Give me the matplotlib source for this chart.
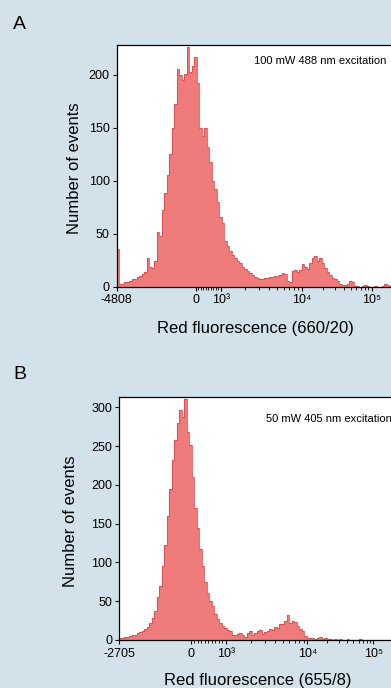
import numpy as np
import matplotlib
matplotlib.use('Agg')
import matplotlib.pyplot as plt
from matplotlib.ticker import FixedLocator, FixedFormatter, NullFormatter

plt.rcParams['font.family'] = ['Liberation Sans', 'DejaVu Sans']

# counts per display channel (channels are equal width on the biexponential axis)
counts_a = [36, 3, 3, 4, 4, 5, 7, 7, 9, 10, 12, 14, 27, 19, 18, 24, 52, 48, 72, 88,
            105, 125, 150, 172, 205, 200, 195, 201, 226, 203, 208, 217, 192, 150, 142, 150, 132, 118, 100, 92,
            80, 66, 60, 43, 38, 34, 30, 27, 24, 22, 19, 17, 15, 13, 11, 9, 8, 7, 7, 8,
            8, 9, 9, 10, 10, 11, 13, 12, 5, 4, 15, 16, 14, 16, 21, 19, 17, 22, 27, 29,
            24, 27, 22, 18, 14, 11, 8, 7, 5, 3, 2, 2, 3, 5, 4, 1, 1, 0, 1, 2,
            1, 0, 0, 1, 0, 0, 1, 3, 2, 1]
counts_b = [3, 3, 4, 4, 5, 6, 7, 9, 10, 11, 14, 17, 22, 29, 38, 55, 70, 95, 122, 160,
            195, 232, 258, 280, 296, 288, 311, 268, 252, 210, 170, 145, 118, 95, 75, 60, 50, 44, 33, 27,
            22, 18, 15, 13, 11, 7, 6, 8, 9, 6, 4, 9, 12, 7, 9, 11, 13, 8, 10, 12,
            14, 13, 17, 16, 21, 20, 24, 32, 22, 24, 23, 18, 14, 11, 5, 3, 2, 2, 1, 3,
            4, 1, 2, 1, 1, 0, 1, 0, 1, 0, 0, 1, 0, 0, 0, 0, 1, 0, 0, 0,
            0, 0, 0, 0, 0, 0, 0, 0, 0]

ticks_a = [-4808, 0, 1e3, 1e4, 1e5]
ticks_b = [-2705, 0, 1e3, 1e4, 1e5]
decade_labels = ['10³', '10⁴', '10⁵']
labels_a = ['-4808', '0'] + decade_labels
labels_b = ['-2705', '0'] + decade_labels
minor_ticks = ([100 * k for k in range(1, 10)] + [1e3 * k for k in range(2, 10)]
               + [1e4 * k for k in range(2, 10)] + [2e5])

BG = '#d3e2ea'
FILL = '#f07b7b'
EDGE = '#d8454a'
CH_W = 2.5
XMAX = 262144


def biex(neg, w_neg, w_lin, w_d3, w_d4):
    # piecewise linear / log axis similar to a logicle display
    def fwd(x):
        x = np.asarray(x, float)
        with np.errstate(all='ignore'):
            return np.where(x < 0, w_neg * x / neg,
                   np.where(x < 1e3, w_lin * x / 1e3,
                   np.where(x < 1e4, w_lin + w_d3 * np.log10(np.maximum(x, 1e3) / 1e3),
                            w_lin + w_d3 + w_d4 * np.log10(np.maximum(x, 1e4) / 1e4))))

    def inv(d):
        d = np.asarray(d, float)
        with np.errstate(all='ignore'):
            return np.where(d < 0, d * neg / w_neg,
                   np.where(d < w_lin, d / w_lin * 1e3,
                   np.where(d < w_lin + w_d3, 1e3 * 10 ** ((d - w_lin) / w_d3),
                            1e4 * 10 ** ((d - w_lin - w_d3) / w_d4))))
    return fwd, inv


def panel(ax, counts, ticks, labels, widths, ytop, yticks, note, note_xy):
    fwd, inv = biex(abs(ticks[0]), *widths)
    ax.set_xscale('function', functions=(fwd, inv))
    d0 = fwd(ticks[0])
    edges = inv(d0 + CH_W * np.arange(len(counts) + 1))
    ax.stairs(counts, edges, fill=True, color=FILL, lw=0)
    ax.stairs(counts, edges, color=EDGE, lw=0.8, alpha=0.75)
    ax.set_xlim(ticks[0], XMAX)
    ax.set_ylim(0, ytop)
    ax.xaxis.set_major_locator(FixedLocator(ticks))
    ax.xaxis.set_major_formatter(FixedFormatter(labels))
    ax.xaxis.set_minor_locator(FixedLocator(minor_ticks))
    ax.xaxis.set_minor_formatter(NullFormatter())
    ax.set_yticks(yticks)
    ax.tick_params(which='major', length=3, width=0.8, labelsize=9, pad=2, colors='black')
    ax.tick_params(which='minor', length=2, width=0.6)
    ax.tick_params(axis='x', which='major', pad=2.5)
    for s in ax.spines.values():
        s.set_linewidth(0.9)
    ax.text(note_xy[0], note_xy[1], note, transform=ax.transAxes, fontsize=8,
            ha='left', va='center')


W, H = 391, 688
fig = plt.figure(figsize=(W / 100, H / 100), dpi=100, facecolor=BG)

ax_a = fig.add_axes([116.7 / W, 1 - 286.7 / H, 284.3 / W, 241.7 / H])
panel(ax_a, counts_a, ticks_a, labels_a, (79.3, 24.7, 81, 70), 228,
      [0, 50, 100, 150, 200], '100 mW 488 nm excitation', (0.483, 0.932))

ax_b = fig.add_axes([119.3 / W, 1 - 640 / H, 281.7 / W, 242.7 / H])
panel(ax_b, counts_b, ticks_b, labels_b, (71.4, 35.3, 81.3, 66), 313,
      [0, 50, 100, 150, 200, 250, 300], '50 mW 405 nm excitation', (0.521, 0.911))

fig.text(13 / W, 1 - 29.3 / H, 'A', fontsize=14, ha='left', va='baseline')
fig.text(13 / W, 1 - 379 / H, 'B', fontsize=14, ha='left', va='baseline')

fig.text(255 / W, 1 - 332.7 / H, 'Red fluorescence (660/20)', fontsize=12,
         ha='center', va='baseline')
fig.text(258 / W, 1 - 685 / H, 'Red fluorescence (655/8)', fontsize=12,
         ha='center', va='baseline')
fig.text(79 / W, 1 - 168 / H, 'Number of events', fontsize=12, rotation=90,
         ha='center', va='baseline', rotation_mode='anchor')
fig.text(75 / W, 1 - 521 / H, 'Number of events', fontsize=12, rotation=90,
         ha='center', va='baseline', rotation_mode='anchor')

fig.savefig('out.png', dpi=100, facecolor=BG)
